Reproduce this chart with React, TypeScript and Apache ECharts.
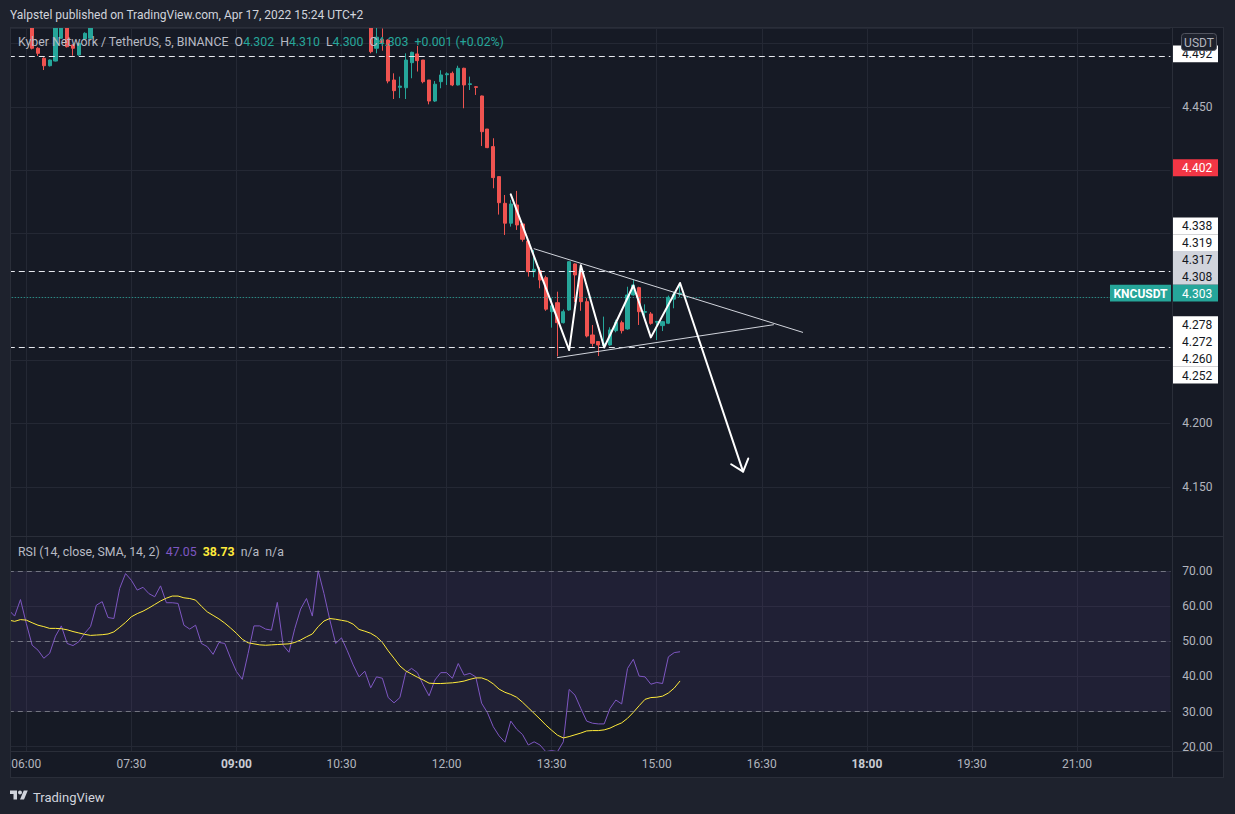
import React, { useEffect, useRef } from "react";
import * as echarts from "echarts";

const W = 1235;
const H = 814;
const FONT = "Roboto, 'Noto Sans', sans-serif";

// ---------- categories (5-minute bars) ----------
const SESSION_START_MIN = 5 * 60 + 45; // 05:45
const BAR_MINUTES = 5;
const CATEGORY_COUNT = 200;
const TIME_LABEL_STEP = 90; // minutes between time labels
const times: string[] = Array.from({ length: CATEGORY_COUNT }, (_, i) => {
  const m = (SESSION_START_MIN + i * BAR_MINUTES) % (24 * 60);
  return String(Math.floor(m / 60)).padStart(2, "0") + ":" + String(m % 60).padStart(2, "0");
});
const boldTimeLabels = ["09:00", "18:00"];

// ---------- KNCUSDT 5m candles: [open, close, low, high] ----------
const ohlc: number[][] = [
  [4.530, 4.535, 4.526, 4.540], // 05:45
  [4.535, 4.528, 4.524, 4.538],
  [4.528, 4.524, 4.519, 4.531],
  [4.524, 4.518, 4.515, 4.527], // 06:00
  [4.518, 4.4964, 4.4955, 4.520],
  [4.4964, 4.4924, 4.4903, 4.4972],
  [4.4885, 4.4826, 4.4792, 4.4893],
  [4.4826, 4.4871, 4.4820, 4.4875],
  [4.4863, 4.5160, 4.4860, 4.5180],
  [4.5043, 4.5200, 4.5040, 4.5220], // 06:30
  [4.5210, 4.4976, 4.4970, 4.5230],
  [4.4990, 4.4964, 4.4905, 4.4995],
  [4.4911, 4.5003, 4.4905, 4.5008],
  [4.5037, 4.5082, 4.5030, 4.5090],
  [4.5043, 4.5160, 4.5040, 4.5180],
  [4.516, 4.528, 4.5165, 4.531], // 07:00
  [4.528, 4.541, 4.526, 4.545],
  [4.541, 4.536, 4.532, 4.546],
  [4.536, 4.538, 4.530, 4.542],
  [4.538, 4.556, 4.536, 4.560],
  [4.556, 4.572, 4.553, 4.577],
  [4.572, 4.568, 4.562, 4.578], // 07:30
  [4.568, 4.562, 4.557, 4.571],
  [4.562, 4.566, 4.559, 4.570],
  [4.566, 4.561, 4.556, 4.569],
  [4.561, 4.559, 4.553, 4.565],
  [4.559, 4.567, 4.556, 4.571],
  [4.567, 4.557, 4.553, 4.569], // 08:00
  [4.557, 4.558, 4.552, 4.562],
  [4.558, 4.557, 4.551, 4.562],
  [4.557, 4.545, 4.541, 4.559],
  [4.545, 4.543, 4.538, 4.549],
  [4.543, 4.546, 4.539, 4.550],
  [4.546, 4.537, 4.533, 4.548], // 08:30
  [4.537, 4.535, 4.530, 4.540],
  [4.535, 4.531, 4.527, 4.538],
  [4.531, 4.537, 4.529, 4.540],
  [4.537, 4.536, 4.531, 4.540],
  [4.536, 4.530, 4.526, 4.538],
  [4.530, 4.524, 4.520, 4.532], // 09:00
  [4.524, 4.521, 4.517, 4.527],
  [4.521, 4.530, 4.519, 4.533],
  [4.530, 4.541, 4.528, 4.544],
  [4.541, 4.541, 4.536, 4.545],
  [4.541, 4.540, 4.535, 4.544],
  [4.540, 4.539, 4.534, 4.543], // 09:30
  [4.539, 4.551, 4.537, 4.555],
  [4.551, 4.538, 4.534, 4.553],
  [4.538, 4.535, 4.530, 4.541],
  [4.535, 4.545, 4.533, 4.548],
  [4.545, 4.553, 4.542, 4.557],
  [4.553, 4.558, 4.550, 4.562], // 10:00
  [4.558, 4.551, 4.547, 4.561],
  [4.551, 4.572, 4.549, 4.576],
  [4.572, 4.563, 4.558, 4.575],
  [4.563, 4.552, 4.548, 4.566],
  [4.552, 4.540, 4.536, 4.555],
  [4.540, 4.543, 4.535, 4.547], // 10:30
  [4.543, 4.533, 4.528, 4.545],
  [4.533, 4.524, 4.519, 4.536],
  [4.524, 4.514, 4.5125, 4.526],
  [4.5135, 4.516, 4.5125, 4.520],
  [4.518, 4.4937, 4.4924, 4.520],
  [4.4964, 4.5051, 4.4924, 4.515], // 11:00
  [4.5035, 4.5009, 4.4945, 4.512],
  [4.5029, 4.4705, 4.4687, 4.5035],
  [4.4713, 4.4629, 4.4563, 4.4766],
  [4.4655, 4.4665, 4.4570, 4.4740],
  [4.4652, 4.4871, 4.4563, 4.4924],
  [4.4850, 4.4932, 4.4727, 4.4937], // 11:30
  [4.4919, 4.4866, 4.4780, 4.4982],
  [4.4871, 4.4700, 4.4687, 4.4871],
  [4.4713, 4.4547, 4.4521, 4.4713],
  [4.4547, 4.4680, 4.4540, 4.4705],
  [4.4700, 4.4753, 4.4648, 4.4790],
  [4.4755, 4.4762, 4.4674, 4.4774], // 12:00
  [4.4766, 4.4674, 4.4665, 4.4780],
  [4.4674, 4.4806, 4.4670, 4.4826],
  [4.4806, 4.4674, 4.4490, 4.4810],
  [4.4678, 4.4683, 4.4634, 4.4740],
  [4.4660, 4.4655, 4.4595, 4.4665],
  [4.4587, 4.4305, 4.4192, 4.4590], // 12:30
  [4.4326, 4.4179, 4.4175, 4.4326],
  [4.4187, 4.3942, 4.3858, 4.4253],
  [4.3950, 4.3744, 4.3650, 4.3950],
  [4.3739, 4.3582, 4.3489, 4.3805],
  [4.3582, 4.3734, 4.3555, 4.3765],
  [4.3726, 4.3568, 4.3529, 4.3837], // 13:00
  [4.3576, 4.3455, 4.3436, 4.3576],
  [4.3442, 4.3199, 4.3160, 4.3442],
  [4.3199, 4.3218, 4.3155, 4.3370],
  [4.3207, 4.3133, 4.3068, 4.3234],
  [4.3152, 4.2903, 4.2890, 4.3167],
  [4.2883, 4.2930, 4.2757, 4.2989], // 13:30
  [4.2954, 4.2796, 4.2530, 4.3041],
  [4.2796, 4.2883, 4.2790, 4.2900],
  [4.2897, 4.3278, 4.2890, 4.3280],
  [4.3260, 4.3173, 4.2960, 4.3265],
  [4.3200, 4.2962, 4.2890, 4.3210],
  [4.2962, 4.2691, 4.2680, 4.2990], // 14:00
  [4.2699, 4.2633, 4.2607, 4.2778],
  [4.2647, 4.2620, 4.2533, 4.2650],
  [4.2615, 4.2633, 4.2607, 4.2844],
  [4.2620, 4.2739, 4.2615, 4.2760],
  [4.2733, 4.2799, 4.2720, 4.2820],
  [4.2796, 4.2733, 4.2711, 4.2812], // 14:30
  [4.2747, 4.3015, 4.2740, 4.3080],
  [4.3015, 4.3094, 4.3010, 4.3134],
  [4.3073, 4.2883, 4.2778, 4.3080],
  [4.2878, 4.2884, 4.2818, 4.2941],
  [4.2865, 4.2791, 4.2780, 4.2880],
  [4.2800, 4.2806, 4.2659, 4.2810], // 15:00
  [4.2773, 4.2804, 4.2730, 4.2810],
  [4.2792, 4.2997, 4.2785, 4.3010],
  [4.2982, 4.3020, 4.2910, 4.3040],
  [4.3020, 4.3030, 4.3000, 4.3100], // 15:20
];

// ---------- RSI (14) and its SMA (14) ----------
const rsiValues: number[] = [
  58.9, 57.2, 61.9, 55.1, 48.9, 47.5, 45.2, 46.6, 51.5, 54.4,
  49.4, 48.8, 49.9, 52.3, 54.2, 60.3, 61.3, 56.8, 56.5, 65.1,
  69.3, 67.4, 64.6, 65.4, 63.6, 62.7, 65.8, 61.0, 61.0, 60.8,
  54.6, 53.5, 54.6, 49.4, 48.5, 46.3, 49.7, 49.4, 45.2, 41.4,
  39.2, 46.6, 54.4, 54.4, 53.5, 53.2, 61.1, 48.9, 46.9, 53.7,
  59.2, 62.2, 57.2, 70.1, 63.6, 56.1, 49.4, 51.0, 47.3, 43.3,
  39.9, 41.5, 36.8, 39.9, 39.5, 34.0, 32.5, 34.0, 41.1, 42.3,
  41.1, 37.6, 34.5, 39.0, 41.1, 41.1, 39.5, 43.7, 40.4, 40.9,
  39.9, 32.4, 29.7, 25.7, 23.1, 21.3, 27.3, 25.0, 23.5, 20.5,
  21.4, 20.5, 18.6, 18.9, 18.6, 21.4, 36.3, 34.7, 30.9, 27.3,
  26.7, 26.5, 26.5, 30.9, 33.3, 32.2, 42.3, 44.9, 40.1, 39.9,
  37.8, 38.3, 38.0, 45.6, 46.8, 47.05,
];
const rsiMaValues: number[] = [
  56.05, 55.7, 56.2, 56.05, 55.3, 54.6, 54.2, 53.7, 53.7, 53.6,
  53.3, 52.8, 52.4, 52.0, 51.7, 51.8, 51.9, 52.1, 52.7, 54.0,
  55.4, 57.0, 57.9, 58.6, 59.5, 60.5, 61.5, 62.3, 62.9, 62.9,
  62.4, 62.2, 61.75, 60.0, 58.4, 57.4, 56.4, 55.2, 53.8, 52.3,
  50.6, 49.6, 49.3, 49.0, 48.9, 49.0, 49.1, 49.2, 49.3, 49.7,
  50.4, 51.3, 52.1, 54.2, 55.8, 56.5, 56.3, 56.0, 55.7, 54.9,
  53.4, 52.9, 52.3, 51.3, 49.7, 47.3, 45.2, 43.0, 41.6, 40.7,
  39.8, 39.0, 38.1, 38.0, 38.0, 38.1, 38.2, 38.4, 38.7, 39.2,
  39.6, 39.6, 39.0, 37.9, 36.4, 35.5, 34.9, 34.1, 32.7, 31.1,
  29.5, 27.9, 26.2, 24.7, 23.3, 22.5, 22.9, 23.4, 23.9, 24.5,
  24.6, 24.6, 24.8, 25.3, 26.1, 26.8, 28.1, 29.8, 31.7, 33.5,
  34.0, 34.1, 34.4, 35.3, 36.7, 38.73,
];
const rsiLevels = [70, 50, 30];

// ---------- drawings (bar index, price) ----------
const horizontalLines = [4.492, 4.319, 4.26];
const wedgeUpper = [[90, 4.338], [136, 4.272]];
const wedgeLower = [[94, 4.252], [131, 4.278]];
const zigzag = [
  [86, 4.381], [96, 4.258], [98, 4.325], [102, 4.26], [107, 4.309],
  [110, 4.268], [115, 4.311], [125.8, 4.162],
];
const axisTags = [
  { value: 4.492, kind: "plain" },
  { value: 4.402, kind: "red" },
  { value: 4.338, kind: "plain" },
  { value: 4.319, kind: "plain" },
  { value: 4.317, kind: "gray" },
  { value: 4.308, kind: "gray" },
  { value: 4.303, kind: "last" },
  { value: 4.278, kind: "plain" },
  { value: 4.272, kind: "plain" },
  { value: 4.26, kind: "plain" },
  { value: 4.252, kind: "plain" },
];

// ---------- layout / style ----------
const BG = "#161a25";
const FRAME = "#1e222d";
const BORDER = "#2a2e39";
const GRID = "#242834";
const AXIS_TXT = "#b2b5be";
const UP = "#26a69a";
const DOWN = "#ef5350";
const PURPLE = "#7e57c2";
const YELLOW = "#ffeb3b";
const PLOT_L = 8.8;
const BAR_PX = 5.837;
const PLOT_W = (CATEGORY_COUNT - 1) * BAR_PX;
const TOP = 28;
const PANE_SPLIT = 536;
const RSI_BOTTOM = 751;
const TIME_BOTTOM = 778;
const AXIS_X = 1172;
const AXIS_R = 1224;
const PRICE_MIN = 4.1111;
const PRICE_MAX = 4.5124;
const RSI_MIN = 18.79;
const RSI_MAX = 80;
const TAG_H = 16.8;
const BADGE = { x: 1181.5, y: 33.5, w: 35, h: 17 };
const TV_LOGO_PATH =
  "M14 22H7V11H0V4h14v18zM28 22h-8l7.5-18h8L28 22zM24 8a4 4 0 1 1-8 0a4 4 0 1 1 8 0z";
const LEGEND_FONT = "12.3px " + FONT;

const isTimeTick = (_i: number, v: string) => {
  const [h, m] = String(v).split(":").map(Number);
  return (h * 60 + m) % TIME_LABEL_STEP === 0;
};

function buildOption() {
  const gridSplit = { show: true, interval: isTimeTick, lineStyle: { color: GRID, width: 1 } };
  const drawLine = (data: number[][], color: string, width: number, z: number) => ({
    type: "line",
    xAxisIndex: 2,
    yAxisIndex: 0,
    data,
    symbol: "none",
    silent: true,
    z,
    lineStyle: { color, width, cap: "round", join: "round" },
  });
  return {
    animation: false,
    backgroundColor: BG,
    grid: [
      { left: PLOT_L, top: TOP, width: PLOT_W, height: PANE_SPLIT - TOP },
      { left: PLOT_L, top: PANE_SPLIT, width: PLOT_W, height: RSI_BOTTOM - PANE_SPLIT },
    ],
    xAxis: [
      {
        type: "category", gridIndex: 0, data: times, boundaryGap: false,
        axisLine: { show: false }, axisTick: { show: false }, axisLabel: { show: false },
        splitLine: gridSplit,
      },
      {
        type: "category", gridIndex: 1, data: times, boundaryGap: false,
        axisLine: { show: false }, axisTick: { show: false },
        axisLabel: {
          show: true, interval: isTimeTick, margin: 7, color: AXIS_TXT, fontSize: 12, fontFamily: FONT,
          formatter: (v: string) => (boldTimeLabels.includes(v) ? "{b|" + v + "}" : v),
          rich: { b: { fontWeight: "bold", color: "#c9ccd4", fontSize: 12, fontFamily: FONT } },
        },
        splitLine: gridSplit,
      },
      { type: "value", gridIndex: 0, min: 0, max: CATEGORY_COUNT - 1, show: false },
    ],
    yAxis: [
      {
        type: "value", gridIndex: 0, position: "right", min: PRICE_MIN, max: PRICE_MAX, splitNumber: 8,
        axisLine: { show: false }, axisTick: { show: false },
        axisLabel: {
          margin: 12, color: AXIS_TXT, fontSize: 12, fontFamily: FONT,
          formatter: (v: number) => v.toFixed(3), showMinLabel: false, showMaxLabel: false,
        },
        splitLine: { show: true, lineStyle: { color: GRID, width: 1 } },
      },
      {
        type: "value", gridIndex: 1, position: "right", min: RSI_MIN, max: RSI_MAX, splitNumber: 6,
        axisLine: { show: false }, axisTick: { show: false },
        axisLabel: {
          margin: 12, color: AXIS_TXT, fontSize: 12, fontFamily: FONT,
          formatter: (v: number) => v.toFixed(2), showMinLabel: false, showMaxLabel: false,
        },
        splitLine: { show: true, lineStyle: { color: GRID, width: 1 } },
      },
    ],
    series: [
      {
        type: "candlestick", xAxisIndex: 0, yAxisIndex: 0, data: ohlc, barWidth: 3.6, clip: true,
        itemStyle: { color: UP, color0: DOWN, borderColor: UP, borderColor0: DOWN, borderWidth: 1 },
        markLine: {
          silent: true, symbol: ["none", "none"], label: { show: false },
          data: [
            ...horizontalLines.map((v) => ({ yAxis: v, lineStyle: { color: "#e6e8ee", width: 1, type: [6, 4] } })),
            { yAxis: ohlc[ohlc.length - 1][1], lineStyle: { color: UP, width: 1, type: [1, 2] } },
          ],
        },
      },
      {
        type: "line", xAxisIndex: 1, yAxisIndex: 1, data: rsiValues, symbol: "none", silent: true,
        lineStyle: { color: PURPLE, width: 1 }, itemStyle: { color: PURPLE },
        markArea: {
          silent: true, itemStyle: { color: "rgba(126,87,194,0.1)" },
          data: [[{ yAxis: rsiLevels[0] }, { yAxis: rsiLevels[2] }]],
        },
        markLine: {
          silent: true, symbol: ["none", "none"], label: { show: false },
          lineStyle: { color: "rgba(140,143,153,0.75)", width: 1, type: [5, 4] },
          data: rsiLevels.map((v) => ({ yAxis: v })),
        },
      },
      {
        type: "line", xAxisIndex: 1, yAxisIndex: 1, data: rsiMaValues, symbol: "none", silent: true,
        lineStyle: { color: YELLOW, width: 1 }, itemStyle: { color: YELLOW },
      },
      drawLine(wedgeUpper, "#d1d4dc", 1, 5),
      drawLine(wedgeLower, "#d1d4dc", 1, 5),
      drawLine(zigzag, "#ffffff", 2, 6),
    ],
  };
}

// positions of the price-axis tags, stacked around the last-price tag
function stackTags(py: (p: number) => number) {
  const tags = [...axisTags].sort((a, b) => b.value - a.value);
  const ys = tags.map((t) => py(t.value));
  const anchor = tags.findIndex((t) => t.kind === "last");
  for (let j = anchor - 1; j >= 0; j--) ys[j] = Math.min(ys[j], ys[j + 1] - TAG_H);
  for (let j = anchor + 1; j < tags.length; j++) ys[j] = Math.max(ys[j], ys[j - 1] + TAG_H);
  return tags.map((t, j) => ({ ...t, y: ys[j] }));
}

function buildGraphics(chart: any, tags: any[]) {
  const py = (p: number) => chart.convertToPixel({ yAxisIndex: 0 }, p) as number;
  const px = (i: number) => chart.convertToPixel({ xAxisIndex: 2 }, i) as number;
  const Z = 100;
  const els: any[] = [];
  const rect = (x: number, y: number, w: number, h: number, fill: string, z = Z) =>
    els.push({ type: "rect", silent: true, z, shape: { x, y, width: w, height: h }, style: { fill } });
  const line = (x1: number, y1: number, x2: number, y2: number, stroke: string, z = Z + 1) =>
    els.push({ type: "line", silent: true, z, shape: { x1, y1, x2, y2 }, style: { stroke, lineWidth: 1 } });
  const text = (x: number, y: number, t: string, fill: string, font: string, align = "left", z = Z + 2, rich?: any) =>
    els.push({
      type: "text", silent: true, z, x, y,
      style: { text: t, fill, font, textAlign: align, align, textVerticalAlign: "middle", verticalAlign: "middle", rich },
    });

  // frame strips around the chart
  rect(0, 0, W, TOP - 1, FRAME);
  rect(0, 0, 10, H, FRAME);
  rect(AXIS_R, 0, W - AXIS_R, H, FRAME);
  rect(0, TIME_BOTTOM, W, H - TIME_BOTTOM, FRAME);
  line(10, TOP - 0.5, AXIS_R, TOP - 0.5, BORDER);
  line(10, PANE_SPLIT + 0.5, AXIS_R, PANE_SPLIT + 0.5, BORDER);
  line(10, RSI_BOTTOM + 0.5, AXIS_R, RSI_BOTTOM + 0.5, BORDER);
  line(10, TIME_BOTTOM - 0.5, AXIS_R, TIME_BOTTOM - 0.5, BORDER);
  line(10.5, TOP, 10.5, TIME_BOTTOM, BORDER);
  line(AXIS_X + 0.5, TOP, AXIS_X + 0.5, TIME_BOTTOM, BORDER);
  line(AXIS_R - 0.5, TOP, AXIS_R - 0.5, TIME_BOTTOM, BORDER);

  // arrow head of the projected move
  const tipD = zigzag[zigzag.length - 1];
  const fromD = zigzag[zigzag.length - 2];
  const tip = [px(tipD[0]), py(tipD[1])];
  const from = [px(fromD[0]), py(fromD[1])];
  const len = Math.hypot(from[0] - tip[0], from[1] - tip[1]);
  const ux = (from[0] - tip[0]) / len;
  const uy = (from[1] - tip[1]) / len;
  const ang = (40 * Math.PI) / 180;
  const L = 14;
  const arm = (a: number) => [tip[0] + L * (ux * Math.cos(a) - uy * Math.sin(a)), tip[1] + L * (ux * Math.sin(a) + uy * Math.cos(a))];
  els.push({
    type: "polyline", silent: true, z: 10,
    shape: { points: [arm(ang), tip, arm(-ang)] },
    style: { stroke: "#ffffff", lineWidth: 2, fill: null, lineCap: "round", lineJoin: "round" },
  });

  // price-axis tags
  const tagStyle: any = {
    plain: { bg: "#ffffff", fg: "#131722" },
    gray: { bg: "#d1d4dc", fg: "#131722" },
    red: { bg: "#f23645", fg: "#ffffff" },
    last: { bg: UP, fg: "#ffffff" },
  };
  tags.forEach((t) => {
    const st = tagStyle[t.kind];
    rect(AXIS_X + 1, t.y - TAG_H / 2, 45, TAG_H, st.bg, Z + 3);
    text(AXIS_X + 10, t.y + 0.5, t.value.toFixed(3), st.fg, "12px " + FONT, "left", Z + 4);
    if (t.kind === "last") {
      rect(1110, t.y - TAG_H / 2, 61, TAG_H, UP, Z + 3);
      text(1140.5, t.y + 0.5, "KNCUSDT", "#ffffff", "bold 12px " + FONT, "center", Z + 4);
    }
  });

  // currency badge
  els.push({
    type: "rect", silent: true, z: Z + 5,
    shape: { x: BADGE.x, y: BADGE.y, width: BADGE.w, height: BADGE.h, r: 3 },
    style: { fill: "#1e222d", stroke: "#50535e", lineWidth: 1 },
  });
  text(BADGE.x + BADGE.w / 2, BADGE.y + BADGE.h / 2 + 0.5, "USDT", AXIS_TXT, "12px " + FONT, "center", Z + 6);

  // header
  text(10, 15, "Yalpstel published on TradingView.com, Apr 17, 2022 15:24 UTC+2", "#d1d4dc", "12px " + FONT);

  // symbol legend
  const last = ohlc[ohlc.length - 1];
  const prev = ohlc[ohlc.length - 2];
  const chg = last[1] - prev[1];
  const pct = (chg / prev[1]) * 100;
  const sign = chg >= 0 ? "+" : "\u2212";
  const f3 = (v: number) => v.toFixed(3);
  const sp = "\u00a0\u00a0";
  const legend =
    "Kyber Network / TetherUS, 5, BINANCE" + sp +
    "O{v|" + f3(last[0]) + "}" + sp +
    "H{v|" + f3(last[3]) + "}" + sp +
    "L{v|" + f3(last[2]) + "}" + sp +
    "C{v|" + f3(last[1]) + "}" + sp +
    "{v|" + sign + Math.abs(chg).toFixed(3) + " (" + sign + Math.abs(pct).toFixed(2) + "%)}";
  text(18, 42, legend, "#b8bbc4", LEGEND_FONT, "left", Z + 2, { v: { fill: UP, font: LEGEND_FONT } });

  // RSI legend
  const rsiLegend =
    "RSI (14, close, SMA, 14, 2)" + sp +
    "{p|" + rsiValues[rsiValues.length - 1].toFixed(2) + "}" + sp +
    "{y|" + rsiMaValues[rsiMaValues.length - 1].toFixed(2) + "}" + sp + "n/a" + sp + "n/a";
  text(18, 552, rsiLegend, "#b8bbc4", LEGEND_FONT, "left", Z + 2, {
    p: { fill: PURPLE, font: LEGEND_FONT },
    y: { fill: YELLOW, font: "bold " + LEGEND_FONT },
  });

  // footer logo
  els.push({
    type: "tvLogo", silent: true, z: Z + 2, x: 10, y: 788.5, scaleX: 0.5, scaleY: 0.5,
    style: { fill: "#d1d4dc" },
  });
  text(33, 797, "TradingView", "#d1d4dc", "13px " + FONT);
  return els;
}

export default function App() {
  const ref = useRef<HTMLDivElement>(null);
  useEffect(() => {
    if (!ref.current) return;
    echarts.graphic.registerShape("tvLogo", echarts.graphic.extendPath(TV_LOGO_PATH, {}));
    const chart = echarts.init(ref.current, undefined, { renderer: "svg", width: W, height: H });
    chart.setOption(buildOption() as any);
    const py = (p: number) => chart.convertToPixel({ yAxisIndex: 0 }, p) as number;
    const tags = stackTags(py);
    // price labels that sit under a tag or the currency badge are not shown
    const covered = (y: number) =>
      tags.some((t) => Math.abs(t.y - y) < TAG_H - 2) || (y > BADGE.y - 6 && y < BADGE.y + BADGE.h + 6);
    chart.setOption({
      yAxis: [
        { axisLabel: { formatter: (v: number) => (covered(py(v)) ? "" : v.toFixed(3)) } },
        {},
      ],
      graphic: buildGraphics(chart, tags),
    } as any);
    return () => chart.dispose();
  }, []);
  return <div ref={ref} style={{ position: "fixed", left: 0, top: 0, width: W, height: H }} />;
}
